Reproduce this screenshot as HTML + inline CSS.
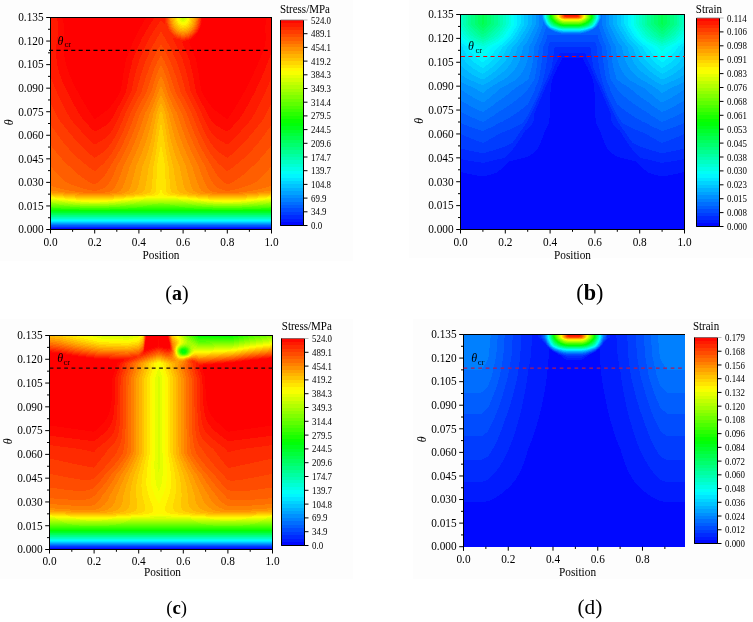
<!DOCTYPE html>
<html><head><meta charset="utf-8"><style>
html,body{margin:0;padding:0;background:#fff}
body{width:753px;height:622px;position:relative;overflow:hidden;font-family:"Liberation Serif", serif}
canvas{position:absolute;display:block}
.bg{position:absolute}
svg{position:absolute;left:0;top:0}
.t{font-size:11.3px}
.c{font-size:8.9px}
.h{font-size:11px}
.it{font-size:12px;font-style:italic}
</style></head><body>
<div class="bg" style="left:0;top:0;width:353px;height:260.5px;background:#fdfdfd"></div>
<div class="bg" style="left:409px;top:0;width:344px;height:258px;background:#fdfdfd"></div>
<div class="bg" style="left:0;top:318.6px;width:352.5px;height:260px;background:#fdfdfd"></div>
<div class="bg" style="left:413px;top:319px;width:340px;height:260px;background:#fdfdfd"></div>
<canvas id="fa" width="222" height="213" style="left:50px;top:17px;width:222px;height:213px"></canvas>
<canvas id="ca" width="24" height="206" style="left:280px;top:20px;width:24px;height:206px"></canvas>
<canvas id="fb" width="225" height="216" style="left:460px;top:14px;width:225px;height:216px"></canvas>
<canvas id="cb" width="24" height="209" style="left:696px;top:18px;width:24px;height:209px"></canvas>
<canvas id="fc" width="224" height="215" style="left:49px;top:335px;width:224px;height:215px"></canvas>
<canvas id="cc" width="24" height="208" style="left:281px;top:338px;width:24px;height:208px"></canvas>
<canvas id="fd" width="222" height="213" style="left:463px;top:334px;width:222px;height:213px"></canvas>
<canvas id="cd" width="24" height="207" style="left:694px;top:337px;width:24px;height:207px"></canvas>
<svg width="753" height="622" viewBox="0 0 753 622" font-family='"Liberation Serif", serif' fill="#000" stroke="#000" stroke-width="1">

<line x1="46.2" y1="229.5" x2="50.5" y2="229.5"/>
<text x="43.6" y="233.3" text-anchor="end" class="t" stroke="none" transform="matrix(1 0 0 1.1 0 -23.33)">0.000</text>
<line x1="48" y1="217.72" x2="50.5" y2="217.72"/>
<line x1="46.2" y1="205.94" x2="50.5" y2="205.94"/>
<text x="43.6" y="209.74" text-anchor="end" class="t" stroke="none" transform="matrix(1 0 0 1.1 0 -20.97)">0.015</text>
<line x1="48" y1="194.17" x2="50.5" y2="194.17"/>
<line x1="46.2" y1="182.39" x2="50.5" y2="182.39"/>
<text x="43.6" y="186.19" text-anchor="end" class="t" stroke="none" transform="matrix(1 0 0 1.1 0 -18.62)">0.030</text>
<line x1="48" y1="170.61" x2="50.5" y2="170.61"/>
<line x1="46.2" y1="158.83" x2="50.5" y2="158.83"/>
<text x="43.6" y="162.63" text-anchor="end" class="t" stroke="none" transform="matrix(1 0 0 1.1 0 -16.26)">0.045</text>
<line x1="48" y1="147.06" x2="50.5" y2="147.06"/>
<line x1="46.2" y1="135.28" x2="50.5" y2="135.28"/>
<text x="43.6" y="139.08" text-anchor="end" class="t" stroke="none" transform="matrix(1 0 0 1.1 0 -13.91)">0.060</text>
<line x1="48" y1="123.5" x2="50.5" y2="123.5"/>
<line x1="46.2" y1="111.72" x2="50.5" y2="111.72"/>
<text x="43.6" y="115.52" text-anchor="end" class="t" stroke="none" transform="matrix(1 0 0 1.1 0 -11.55)">0.075</text>
<line x1="48" y1="99.94" x2="50.5" y2="99.94"/>
<line x1="46.2" y1="88.17" x2="50.5" y2="88.17"/>
<text x="43.6" y="91.97" text-anchor="end" class="t" stroke="none" transform="matrix(1 0 0 1.1 0 -9.2)">0.090</text>
<line x1="48" y1="76.39" x2="50.5" y2="76.39"/>
<line x1="46.2" y1="64.61" x2="50.5" y2="64.61"/>
<text x="43.6" y="68.41" text-anchor="end" class="t" stroke="none" transform="matrix(1 0 0 1.1 0 -6.84)">0.105</text>
<line x1="48" y1="52.83" x2="50.5" y2="52.83"/>
<line x1="46.2" y1="41.06" x2="50.5" y2="41.06"/>
<text x="43.6" y="44.86" text-anchor="end" class="t" stroke="none" transform="matrix(1 0 0 1.1 0 -4.49)">0.120</text>
<line x1="48" y1="29.28" x2="50.5" y2="29.28"/>
<line x1="46.2" y1="17.5" x2="50.5" y2="17.5"/>
<text x="43.6" y="21.3" text-anchor="end" class="t" stroke="none" transform="matrix(1 0 0 1.1 0 -2.13)">0.135</text>
<line x1="50.5" y1="229.5" x2="50.5" y2="233.5"/>
<line x1="72.6" y1="229.5" x2="72.6" y2="231.8"/>
<line x1="94.7" y1="229.5" x2="94.7" y2="233.5"/>
<line x1="116.8" y1="229.5" x2="116.8" y2="231.8"/>
<line x1="138.9" y1="229.5" x2="138.9" y2="233.5"/>
<line x1="161" y1="229.5" x2="161" y2="231.8"/>
<line x1="183.1" y1="229.5" x2="183.1" y2="233.5"/>
<line x1="205.2" y1="229.5" x2="205.2" y2="231.8"/>
<line x1="227.3" y1="229.5" x2="227.3" y2="233.5"/>
<line x1="249.4" y1="229.5" x2="249.4" y2="231.8"/>
<line x1="271.5" y1="229.5" x2="271.5" y2="233.5"/>
<text x="50.5" y="245.7" text-anchor="middle" class="t" stroke="none" transform="matrix(1 0 0 1.1 0 -24.57)">0.0</text>
<text x="94.7" y="245.7" text-anchor="middle" class="t" stroke="none" transform="matrix(1 0 0 1.1 0 -24.57)">0.2</text>
<text x="138.9" y="245.7" text-anchor="middle" class="t" stroke="none" transform="matrix(1 0 0 1.1 0 -24.57)">0.4</text>
<text x="183.1" y="245.7" text-anchor="middle" class="t" stroke="none" transform="matrix(1 0 0 1.1 0 -24.57)">0.6</text>
<text x="227.3" y="245.7" text-anchor="middle" class="t" stroke="none" transform="matrix(1 0 0 1.1 0 -24.57)">0.8</text>
<text x="271.5" y="245.7" text-anchor="middle" class="t" stroke="none" transform="matrix(1 0 0 1.1 0 -24.57)">1.0</text>
<text x="161" y="259" text-anchor="middle" class="t" stroke="none" transform="matrix(1 0 0 1.1 0 -25.9)">Position</text>
<rect x="50.5" y="17.5" width="221" height="212" fill="none"/>
<text transform="translate(13,122.2) rotate(-90)" text-anchor="middle" class="it" stroke="none">&#952;</text>
<line x1="49.0" y1="50.4" x2="271.5" y2="50.4" stroke="#000" stroke-width="1.3" stroke-dasharray="4.1 3.3"/>
<text x="57.6" y="44.5" class="it" stroke="none">&#952;</text><text x="64.5" y="46.5" font-size="8.5" stroke="none">cr</text>
<path d="M280.5,20V225.5H303.5V20" fill="none"/>
<line x1="280.5" y1="20" x2="303.5" y2="20" stroke="#777" stroke-width="0.8"/>
<line x1="303.5" y1="20" x2="307.5" y2="20" stroke="#bbb"/>
<text x="311" y="23.6" class="c" stroke="none" transform="matrix(1 0 0 1.1 0 -2.36)">524.0</text>
<line x1="303.5" y1="33.7" x2="307.5" y2="33.7"/>
<text x="311" y="37.3" class="c" stroke="none" transform="matrix(1 0 0 1.1 0 -3.73)">489.1</text>
<line x1="303.5" y1="47.4" x2="307.5" y2="47.4"/>
<text x="311" y="51" class="c" stroke="none" transform="matrix(1 0 0 1.1 0 -5.1)">454.1</text>
<line x1="303.5" y1="61.1" x2="307.5" y2="61.1"/>
<text x="311" y="64.7" class="c" stroke="none" transform="matrix(1 0 0 1.1 0 -6.47)">419.2</text>
<line x1="303.5" y1="74.8" x2="307.5" y2="74.8"/>
<text x="311" y="78.4" class="c" stroke="none" transform="matrix(1 0 0 1.1 0 -7.84)">384.3</text>
<line x1="303.5" y1="88.5" x2="307.5" y2="88.5"/>
<text x="311" y="92.1" class="c" stroke="none" transform="matrix(1 0 0 1.1 0 -9.21)">349.3</text>
<line x1="303.5" y1="102.2" x2="307.5" y2="102.2"/>
<text x="311" y="105.8" class="c" stroke="none" transform="matrix(1 0 0 1.1 0 -10.58)">314.4</text>
<line x1="303.5" y1="115.9" x2="307.5" y2="115.9"/>
<text x="311" y="119.5" class="c" stroke="none" transform="matrix(1 0 0 1.1 0 -11.95)">279.5</text>
<line x1="303.5" y1="129.6" x2="307.5" y2="129.6"/>
<text x="311" y="133.2" class="c" stroke="none" transform="matrix(1 0 0 1.1 0 -13.32)">244.5</text>
<line x1="303.5" y1="143.3" x2="307.5" y2="143.3"/>
<text x="311" y="146.9" class="c" stroke="none" transform="matrix(1 0 0 1.1 0 -14.69)">209.6</text>
<line x1="303.5" y1="157" x2="307.5" y2="157"/>
<text x="311" y="160.6" class="c" stroke="none" transform="matrix(1 0 0 1.1 0 -16.06)">174.7</text>
<line x1="303.5" y1="170.7" x2="307.5" y2="170.7"/>
<text x="311" y="174.3" class="c" stroke="none" transform="matrix(1 0 0 1.1 0 -17.43)">139.7</text>
<line x1="303.5" y1="184.4" x2="307.5" y2="184.4"/>
<text x="311" y="188" class="c" stroke="none" transform="matrix(1 0 0 1.1 0 -18.8)">104.8</text>
<line x1="303.5" y1="198.1" x2="307.5" y2="198.1"/>
<text x="311" y="201.7" class="c" stroke="none" transform="matrix(1 0 0 1.1 0 -20.17)">69.9</text>
<line x1="303.5" y1="211.8" x2="307.5" y2="211.8"/>
<text x="311" y="215.4" class="c" stroke="none" transform="matrix(1 0 0 1.1 0 -21.54)">34.9</text>
<line x1="303.5" y1="225.5" x2="307.5" y2="225.5"/>
<text x="311" y="229.1" class="c" stroke="none" transform="matrix(1 0 0 1.1 0 -22.91)">0.0</text>
<text x="279.9" y="12.7" class="h" stroke="none" transform="matrix(1 0 0 1.1 0 -1.27)">Stress/MPa</text>
<text x="176.9" y="300.4" text-anchor="middle" font-size="20" stroke="none">(<tspan font-weight="bold" stroke="none">a</tspan>)</text>
<line x1="456.2" y1="229.5" x2="460.5" y2="229.5"/>
<text x="453.6" y="233.3" text-anchor="end" class="t" stroke="none" transform="matrix(1 0 0 1.1 0 -23.33)">0.000</text>
<line x1="458" y1="217.56" x2="460.5" y2="217.56"/>
<line x1="456.2" y1="205.61" x2="460.5" y2="205.61"/>
<text x="453.6" y="209.41" text-anchor="end" class="t" stroke="none" transform="matrix(1 0 0 1.1 0 -20.94)">0.015</text>
<line x1="458" y1="193.67" x2="460.5" y2="193.67"/>
<line x1="456.2" y1="181.72" x2="460.5" y2="181.72"/>
<text x="453.6" y="185.52" text-anchor="end" class="t" stroke="none" transform="matrix(1 0 0 1.1 0 -18.55)">0.030</text>
<line x1="458" y1="169.78" x2="460.5" y2="169.78"/>
<line x1="456.2" y1="157.83" x2="460.5" y2="157.83"/>
<text x="453.6" y="161.63" text-anchor="end" class="t" stroke="none" transform="matrix(1 0 0 1.1 0 -16.16)">0.045</text>
<line x1="458" y1="145.89" x2="460.5" y2="145.89"/>
<line x1="456.2" y1="133.94" x2="460.5" y2="133.94"/>
<text x="453.6" y="137.74" text-anchor="end" class="t" stroke="none" transform="matrix(1 0 0 1.1 0 -13.77)">0.060</text>
<line x1="458" y1="122" x2="460.5" y2="122"/>
<line x1="456.2" y1="110.06" x2="460.5" y2="110.06"/>
<text x="453.6" y="113.86" text-anchor="end" class="t" stroke="none" transform="matrix(1 0 0 1.1 0 -11.39)">0.075</text>
<line x1="458" y1="98.11" x2="460.5" y2="98.11"/>
<line x1="456.2" y1="86.17" x2="460.5" y2="86.17"/>
<text x="453.6" y="89.97" text-anchor="end" class="t" stroke="none" transform="matrix(1 0 0 1.1 0 -9)">0.090</text>
<line x1="458" y1="74.22" x2="460.5" y2="74.22"/>
<line x1="456.2" y1="62.28" x2="460.5" y2="62.28"/>
<text x="453.6" y="66.08" text-anchor="end" class="t" stroke="none" transform="matrix(1 0 0 1.1 0 -6.61)">0.105</text>
<line x1="458" y1="50.33" x2="460.5" y2="50.33"/>
<line x1="456.2" y1="38.39" x2="460.5" y2="38.39"/>
<text x="453.6" y="42.19" text-anchor="end" class="t" stroke="none" transform="matrix(1 0 0 1.1 0 -4.22)">0.120</text>
<line x1="458" y1="26.44" x2="460.5" y2="26.44"/>
<line x1="456.2" y1="14.5" x2="460.5" y2="14.5"/>
<text x="453.6" y="18.3" text-anchor="end" class="t" stroke="none" transform="matrix(1 0 0 1.1 0 -1.83)">0.135</text>
<line x1="460.5" y1="229.5" x2="460.5" y2="233.5"/>
<line x1="482.9" y1="229.5" x2="482.9" y2="231.8"/>
<line x1="505.3" y1="229.5" x2="505.3" y2="233.5"/>
<line x1="527.7" y1="229.5" x2="527.7" y2="231.8"/>
<line x1="550.1" y1="229.5" x2="550.1" y2="233.5"/>
<line x1="572.5" y1="229.5" x2="572.5" y2="231.8"/>
<line x1="594.9" y1="229.5" x2="594.9" y2="233.5"/>
<line x1="617.3" y1="229.5" x2="617.3" y2="231.8"/>
<line x1="639.7" y1="229.5" x2="639.7" y2="233.5"/>
<line x1="662.1" y1="229.5" x2="662.1" y2="231.8"/>
<line x1="684.5" y1="229.5" x2="684.5" y2="233.5"/>
<text x="460.5" y="245.7" text-anchor="middle" class="t" stroke="none" transform="matrix(1 0 0 1.1 0 -24.57)">0.0</text>
<text x="505.3" y="245.7" text-anchor="middle" class="t" stroke="none" transform="matrix(1 0 0 1.1 0 -24.57)">0.2</text>
<text x="550.1" y="245.7" text-anchor="middle" class="t" stroke="none" transform="matrix(1 0 0 1.1 0 -24.57)">0.4</text>
<text x="594.9" y="245.7" text-anchor="middle" class="t" stroke="none" transform="matrix(1 0 0 1.1 0 -24.57)">0.6</text>
<text x="639.7" y="245.7" text-anchor="middle" class="t" stroke="none" transform="matrix(1 0 0 1.1 0 -24.57)">0.8</text>
<text x="684.5" y="245.7" text-anchor="middle" class="t" stroke="none" transform="matrix(1 0 0 1.1 0 -24.57)">1.0</text>
<text x="572.5" y="259" text-anchor="middle" class="t" stroke="none" transform="matrix(1 0 0 1.1 0 -25.9)">Position</text>
<rect x="460.5" y="14.5" width="224" height="215" fill="none"/>
<text transform="translate(423,120.7) rotate(-90)" text-anchor="middle" class="it" stroke="none">&#952;</text>
<line x1="461.0" y1="56.5" x2="684.5" y2="56.5" stroke="#f00000" stroke-width="1.2" stroke-dasharray="4 3.4"/>
<text x="468.1" y="50.0" class="it" stroke="none">&#952;</text><text x="475.5" y="52.5" font-size="8.5" stroke="none">cr</text>
<path d="M696.5,18V226.5H719.5V18" fill="none"/>
<line x1="696.5" y1="18" x2="719.5" y2="18" stroke="#777" stroke-width="0.8"/>
<line x1="719.5" y1="18" x2="723.5" y2="18" stroke="#bbb"/>
<text x="727" y="21.6" class="c" stroke="none" transform="matrix(1 0 0 1.1 0 -2.16)">0.114</text>
<line x1="719.5" y1="31.9" x2="723.5" y2="31.9"/>
<text x="727" y="35.5" class="c" stroke="none" transform="matrix(1 0 0 1.1 0 -3.55)">0.106</text>
<line x1="719.5" y1="45.8" x2="723.5" y2="45.8"/>
<text x="727" y="49.4" class="c" stroke="none" transform="matrix(1 0 0 1.1 0 -4.94)">0.098</text>
<line x1="719.5" y1="59.7" x2="723.5" y2="59.7"/>
<text x="727" y="63.3" class="c" stroke="none" transform="matrix(1 0 0 1.1 0 -6.33)">0.091</text>
<line x1="719.5" y1="73.6" x2="723.5" y2="73.6"/>
<text x="727" y="77.2" class="c" stroke="none" transform="matrix(1 0 0 1.1 0 -7.72)">0.083</text>
<line x1="719.5" y1="87.5" x2="723.5" y2="87.5"/>
<text x="727" y="91.1" class="c" stroke="none" transform="matrix(1 0 0 1.1 0 -9.11)">0.076</text>
<line x1="719.5" y1="101.4" x2="723.5" y2="101.4"/>
<text x="727" y="105" class="c" stroke="none" transform="matrix(1 0 0 1.1 0 -10.5)">0.068</text>
<line x1="719.5" y1="115.3" x2="723.5" y2="115.3"/>
<text x="727" y="118.9" class="c" stroke="none" transform="matrix(1 0 0 1.1 0 -11.89)">0.061</text>
<line x1="719.5" y1="129.2" x2="723.5" y2="129.2"/>
<text x="727" y="132.8" class="c" stroke="none" transform="matrix(1 0 0 1.1 0 -13.28)">0.053</text>
<line x1="719.5" y1="143.1" x2="723.5" y2="143.1"/>
<text x="727" y="146.7" class="c" stroke="none" transform="matrix(1 0 0 1.1 0 -14.67)">0.045</text>
<line x1="719.5" y1="157" x2="723.5" y2="157"/>
<text x="727" y="160.6" class="c" stroke="none" transform="matrix(1 0 0 1.1 0 -16.06)">0.038</text>
<line x1="719.5" y1="170.9" x2="723.5" y2="170.9"/>
<text x="727" y="174.5" class="c" stroke="none" transform="matrix(1 0 0 1.1 0 -17.45)">0.030</text>
<line x1="719.5" y1="184.8" x2="723.5" y2="184.8"/>
<text x="727" y="188.4" class="c" stroke="none" transform="matrix(1 0 0 1.1 0 -18.84)">0.023</text>
<line x1="719.5" y1="198.7" x2="723.5" y2="198.7"/>
<text x="727" y="202.3" class="c" stroke="none" transform="matrix(1 0 0 1.1 0 -20.23)">0.015</text>
<line x1="719.5" y1="212.6" x2="723.5" y2="212.6"/>
<text x="727" y="216.2" class="c" stroke="none" transform="matrix(1 0 0 1.1 0 -21.62)">0.008</text>
<line x1="719.5" y1="226.5" x2="723.5" y2="226.5"/>
<text x="727" y="230.1" class="c" stroke="none" transform="matrix(1 0 0 1.1 0 -23.01)">0.000</text>
<text x="695.8" y="12.7" class="h" stroke="none" transform="matrix(1 0 0 1.1 0 -1.27)">Strain</text>
<text x="589.9" y="300.0" text-anchor="middle" font-size="22.2" stroke="none">(<tspan font-weight="bold" stroke="none">b</tspan>)</text>
<line x1="45.2" y1="549.5" x2="49.5" y2="549.5"/>
<text x="42.6" y="553.3" text-anchor="end" class="t" stroke="none" transform="matrix(1 0 0 1.1 0 -55.33)">0.000</text>
<line x1="47" y1="537.61" x2="49.5" y2="537.61"/>
<line x1="45.2" y1="525.72" x2="49.5" y2="525.72"/>
<text x="42.6" y="529.52" text-anchor="end" class="t" stroke="none" transform="matrix(1 0 0 1.1 0 -52.95)">0.015</text>
<line x1="47" y1="513.83" x2="49.5" y2="513.83"/>
<line x1="45.2" y1="501.94" x2="49.5" y2="501.94"/>
<text x="42.6" y="505.74" text-anchor="end" class="t" stroke="none" transform="matrix(1 0 0 1.1 0 -50.57)">0.030</text>
<line x1="47" y1="490.06" x2="49.5" y2="490.06"/>
<line x1="45.2" y1="478.17" x2="49.5" y2="478.17"/>
<text x="42.6" y="481.97" text-anchor="end" class="t" stroke="none" transform="matrix(1 0 0 1.1 0 -48.2)">0.045</text>
<line x1="47" y1="466.28" x2="49.5" y2="466.28"/>
<line x1="45.2" y1="454.39" x2="49.5" y2="454.39"/>
<text x="42.6" y="458.19" text-anchor="end" class="t" stroke="none" transform="matrix(1 0 0 1.1 0 -45.82)">0.060</text>
<line x1="47" y1="442.5" x2="49.5" y2="442.5"/>
<line x1="45.2" y1="430.61" x2="49.5" y2="430.61"/>
<text x="42.6" y="434.41" text-anchor="end" class="t" stroke="none" transform="matrix(1 0 0 1.1 0 -43.44)">0.075</text>
<line x1="47" y1="418.72" x2="49.5" y2="418.72"/>
<line x1="45.2" y1="406.83" x2="49.5" y2="406.83"/>
<text x="42.6" y="410.63" text-anchor="end" class="t" stroke="none" transform="matrix(1 0 0 1.1 0 -41.06)">0.090</text>
<line x1="47" y1="394.94" x2="49.5" y2="394.94"/>
<line x1="45.2" y1="383.06" x2="49.5" y2="383.06"/>
<text x="42.6" y="386.86" text-anchor="end" class="t" stroke="none" transform="matrix(1 0 0 1.1 0 -38.69)">0.105</text>
<line x1="47" y1="371.17" x2="49.5" y2="371.17"/>
<line x1="45.2" y1="359.28" x2="49.5" y2="359.28"/>
<text x="42.6" y="363.08" text-anchor="end" class="t" stroke="none" transform="matrix(1 0 0 1.1 0 -36.31)">0.120</text>
<line x1="47" y1="347.39" x2="49.5" y2="347.39"/>
<line x1="45.2" y1="335.5" x2="49.5" y2="335.5"/>
<text x="42.6" y="339.3" text-anchor="end" class="t" stroke="none" transform="matrix(1 0 0 1.1 0 -33.93)">0.135</text>
<line x1="49.5" y1="549.5" x2="49.5" y2="553.5"/>
<line x1="71.8" y1="549.5" x2="71.8" y2="551.8"/>
<line x1="94.1" y1="549.5" x2="94.1" y2="553.5"/>
<line x1="116.4" y1="549.5" x2="116.4" y2="551.8"/>
<line x1="138.7" y1="549.5" x2="138.7" y2="553.5"/>
<line x1="161" y1="549.5" x2="161" y2="551.8"/>
<line x1="183.3" y1="549.5" x2="183.3" y2="553.5"/>
<line x1="205.6" y1="549.5" x2="205.6" y2="551.8"/>
<line x1="227.9" y1="549.5" x2="227.9" y2="553.5"/>
<line x1="250.2" y1="549.5" x2="250.2" y2="551.8"/>
<line x1="272.5" y1="549.5" x2="272.5" y2="553.5"/>
<text x="49.5" y="564.9" text-anchor="middle" class="t" stroke="none" transform="matrix(1 0 0 1.1 0 -56.49)">0.0</text>
<text x="94.1" y="564.9" text-anchor="middle" class="t" stroke="none" transform="matrix(1 0 0 1.1 0 -56.49)">0.2</text>
<text x="138.7" y="564.9" text-anchor="middle" class="t" stroke="none" transform="matrix(1 0 0 1.1 0 -56.49)">0.4</text>
<text x="183.3" y="564.9" text-anchor="middle" class="t" stroke="none" transform="matrix(1 0 0 1.1 0 -56.49)">0.6</text>
<text x="227.9" y="564.9" text-anchor="middle" class="t" stroke="none" transform="matrix(1 0 0 1.1 0 -56.49)">0.8</text>
<text x="272.5" y="564.9" text-anchor="middle" class="t" stroke="none" transform="matrix(1 0 0 1.1 0 -56.49)">1.0</text>
<text x="162.5" y="576.5" text-anchor="middle" class="t" stroke="none" transform="matrix(1 0 0 1.1 0 -57.65)">Position</text>
<rect x="49.5" y="335.5" width="223" height="214" fill="none"/>
<text transform="translate(12,441.2) rotate(-90)" text-anchor="middle" class="it" stroke="none">&#952;</text>
<line x1="49.6" y1="368.1" x2="272.5" y2="368.1" stroke="#1a0a0a" stroke-width="1.3" stroke-dasharray="3.8 3.5"/>
<text x="57.2" y="361.8" class="it" stroke="none">&#952;</text><text x="63.6" y="364.8" font-size="8.5" stroke="none">cr</text>
<path d="M281.5,338.5V545.5H304.5V338.5" fill="none"/>
<line x1="281.5" y1="338.5" x2="304.5" y2="338.5" stroke="#777" stroke-width="0.8"/>
<line x1="304.5" y1="338.5" x2="308.5" y2="338.5" stroke="#bbb"/>
<text x="312" y="342.1" class="c" stroke="none" transform="matrix(1 0 0 1.1 0 -34.21)">524.0</text>
<line x1="304.5" y1="352.3" x2="308.5" y2="352.3"/>
<text x="312" y="355.9" class="c" stroke="none" transform="matrix(1 0 0 1.1 0 -35.59)">489.1</text>
<line x1="304.5" y1="366.1" x2="308.5" y2="366.1"/>
<text x="312" y="369.7" class="c" stroke="none" transform="matrix(1 0 0 1.1 0 -36.97)">454.1</text>
<line x1="304.5" y1="379.9" x2="308.5" y2="379.9"/>
<text x="312" y="383.5" class="c" stroke="none" transform="matrix(1 0 0 1.1 0 -38.35)">419.2</text>
<line x1="304.5" y1="393.7" x2="308.5" y2="393.7"/>
<text x="312" y="397.3" class="c" stroke="none" transform="matrix(1 0 0 1.1 0 -39.73)">384.3</text>
<line x1="304.5" y1="407.5" x2="308.5" y2="407.5"/>
<text x="312" y="411.1" class="c" stroke="none" transform="matrix(1 0 0 1.1 0 -41.11)">349.3</text>
<line x1="304.5" y1="421.3" x2="308.5" y2="421.3"/>
<text x="312" y="424.9" class="c" stroke="none" transform="matrix(1 0 0 1.1 0 -42.49)">314.4</text>
<line x1="304.5" y1="435.1" x2="308.5" y2="435.1"/>
<text x="312" y="438.7" class="c" stroke="none" transform="matrix(1 0 0 1.1 0 -43.87)">279.5</text>
<line x1="304.5" y1="448.9" x2="308.5" y2="448.9"/>
<text x="312" y="452.5" class="c" stroke="none" transform="matrix(1 0 0 1.1 0 -45.25)">244.5</text>
<line x1="304.5" y1="462.7" x2="308.5" y2="462.7"/>
<text x="312" y="466.3" class="c" stroke="none" transform="matrix(1 0 0 1.1 0 -46.63)">209.6</text>
<line x1="304.5" y1="476.5" x2="308.5" y2="476.5"/>
<text x="312" y="480.1" class="c" stroke="none" transform="matrix(1 0 0 1.1 0 -48.01)">174.7</text>
<line x1="304.5" y1="490.3" x2="308.5" y2="490.3"/>
<text x="312" y="493.9" class="c" stroke="none" transform="matrix(1 0 0 1.1 0 -49.39)">139.7</text>
<line x1="304.5" y1="504.1" x2="308.5" y2="504.1"/>
<text x="312" y="507.7" class="c" stroke="none" transform="matrix(1 0 0 1.1 0 -50.77)">104.8</text>
<line x1="304.5" y1="517.9" x2="308.5" y2="517.9"/>
<text x="312" y="521.5" class="c" stroke="none" transform="matrix(1 0 0 1.1 0 -52.15)">69.9</text>
<line x1="304.5" y1="531.7" x2="308.5" y2="531.7"/>
<text x="312" y="535.3" class="c" stroke="none" transform="matrix(1 0 0 1.1 0 -53.53)">34.9</text>
<line x1="304.5" y1="545.5" x2="308.5" y2="545.5"/>
<text x="312" y="549.1" class="c" stroke="none" transform="matrix(1 0 0 1.1 0 -54.91)">0.0</text>
<text x="281.8" y="330.1" class="h" stroke="none" transform="matrix(1 0 0 1.1 0 -33.01)">Stress/MPa</text>
<text x="176.7" y="614.3" text-anchor="middle" font-size="18.7" stroke="none">(<tspan font-weight="bold" stroke="none">c</tspan>)</text>
<line x1="459.2" y1="546.7" x2="463.5" y2="546.7"/>
<text x="456.6" y="550.5" text-anchor="end" class="t" stroke="none" transform="matrix(1 0 0 1.1 0 -55.05)">0.000</text>
<line x1="461" y1="534.91" x2="463.5" y2="534.91"/>
<line x1="459.2" y1="523.12" x2="463.5" y2="523.12"/>
<text x="456.6" y="526.92" text-anchor="end" class="t" stroke="none" transform="matrix(1 0 0 1.1 0 -52.69)">0.015</text>
<line x1="461" y1="511.33" x2="463.5" y2="511.33"/>
<line x1="459.2" y1="499.54" x2="463.5" y2="499.54"/>
<text x="456.6" y="503.34" text-anchor="end" class="t" stroke="none" transform="matrix(1 0 0 1.1 0 -50.33)">0.030</text>
<line x1="461" y1="487.76" x2="463.5" y2="487.76"/>
<line x1="459.2" y1="475.97" x2="463.5" y2="475.97"/>
<text x="456.6" y="479.77" text-anchor="end" class="t" stroke="none" transform="matrix(1 0 0 1.1 0 -47.98)">0.045</text>
<line x1="461" y1="464.18" x2="463.5" y2="464.18"/>
<line x1="459.2" y1="452.39" x2="463.5" y2="452.39"/>
<text x="456.6" y="456.19" text-anchor="end" class="t" stroke="none" transform="matrix(1 0 0 1.1 0 -45.62)">0.060</text>
<line x1="461" y1="440.6" x2="463.5" y2="440.6"/>
<line x1="459.2" y1="428.81" x2="463.5" y2="428.81"/>
<text x="456.6" y="432.61" text-anchor="end" class="t" stroke="none" transform="matrix(1 0 0 1.1 0 -43.26)">0.075</text>
<line x1="461" y1="417.02" x2="463.5" y2="417.02"/>
<line x1="459.2" y1="405.23" x2="463.5" y2="405.23"/>
<text x="456.6" y="409.03" text-anchor="end" class="t" stroke="none" transform="matrix(1 0 0 1.1 0 -40.9)">0.090</text>
<line x1="461" y1="393.44" x2="463.5" y2="393.44"/>
<line x1="459.2" y1="381.66" x2="463.5" y2="381.66"/>
<text x="456.6" y="385.46" text-anchor="end" class="t" stroke="none" transform="matrix(1 0 0 1.1 0 -38.55)">0.105</text>
<line x1="461" y1="369.87" x2="463.5" y2="369.87"/>
<line x1="459.2" y1="358.08" x2="463.5" y2="358.08"/>
<text x="456.6" y="361.88" text-anchor="end" class="t" stroke="none" transform="matrix(1 0 0 1.1 0 -36.19)">0.120</text>
<line x1="461" y1="346.29" x2="463.5" y2="346.29"/>
<line x1="459.2" y1="334.5" x2="463.5" y2="334.5"/>
<text x="456.6" y="338.3" text-anchor="end" class="t" stroke="none" transform="matrix(1 0 0 1.1 0 -33.83)">0.135</text>
<line x1="463.5" y1="546.7" x2="463.5" y2="550.7"/>
<line x1="485.87" y1="546.7" x2="485.87" y2="549"/>
<line x1="508.25" y1="546.7" x2="508.25" y2="550.7"/>
<line x1="530.62" y1="546.7" x2="530.62" y2="549"/>
<line x1="552.99" y1="546.7" x2="552.99" y2="550.7"/>
<line x1="575.37" y1="546.7" x2="575.37" y2="549"/>
<line x1="597.74" y1="546.7" x2="597.74" y2="550.7"/>
<line x1="620.12" y1="546.7" x2="620.12" y2="549"/>
<line x1="642.49" y1="546.7" x2="642.49" y2="550.7"/>
<line x1="664.86" y1="546.7" x2="664.86" y2="549"/>
<text x="463.5" y="562.9" text-anchor="middle" class="t" stroke="none" transform="matrix(1 0 0 1.1 0 -56.29)">0.0</text>
<text x="508.25" y="562.9" text-anchor="middle" class="t" stroke="none" transform="matrix(1 0 0 1.1 0 -56.29)">0.2</text>
<text x="552.99" y="562.9" text-anchor="middle" class="t" stroke="none" transform="matrix(1 0 0 1.1 0 -56.29)">0.4</text>
<text x="597.74" y="562.9" text-anchor="middle" class="t" stroke="none" transform="matrix(1 0 0 1.1 0 -56.29)">0.6</text>
<text x="642.49" y="562.9" text-anchor="middle" class="t" stroke="none" transform="matrix(1 0 0 1.1 0 -56.29)">0.8</text>
<text x="577.55" y="576.2" text-anchor="middle" class="t" stroke="none" transform="matrix(1 0 0 1.1 0 -57.62)">Position</text>
<path d="M463.5,550.7V334.5H685" fill="none"/>
<text transform="translate(426,439.3) rotate(-90)" text-anchor="middle" class="it" stroke="none">&#952;</text>
<line x1="463.5" y1="368.1" x2="685" y2="368.1" stroke="#b01858" stroke-width="1.3" stroke-dasharray="3.7 3.7"/>
<text x="471.3" y="362.1" class="it" stroke="none">&#952;</text><text x="477.7" y="364.8" font-size="8.5" stroke="none">cr</text>
<path d="M694.5,337.5V543.5H717.5V337.5" fill="none"/>
<line x1="694.5" y1="337.5" x2="717.5" y2="337.5" stroke="#777" stroke-width="0.8"/>
<line x1="717.5" y1="337.5" x2="721.5" y2="337.5" stroke="#bbb"/>
<text x="725" y="341.1" class="c" stroke="none" transform="matrix(1 0 0 1.1 0 -34.11)">0.179</text>
<line x1="717.5" y1="351.23" x2="721.5" y2="351.23"/>
<text x="725" y="354.83" class="c" stroke="none" transform="matrix(1 0 0 1.1 0 -35.48)">0.168</text>
<line x1="717.5" y1="364.97" x2="721.5" y2="364.97"/>
<text x="725" y="368.57" class="c" stroke="none" transform="matrix(1 0 0 1.1 0 -36.86)">0.156</text>
<line x1="717.5" y1="378.7" x2="721.5" y2="378.7"/>
<text x="725" y="382.3" class="c" stroke="none" transform="matrix(1 0 0 1.1 0 -38.23)">0.144</text>
<line x1="717.5" y1="392.43" x2="721.5" y2="392.43"/>
<text x="725" y="396.03" class="c" stroke="none" transform="matrix(1 0 0 1.1 0 -39.6)">0.132</text>
<line x1="717.5" y1="406.17" x2="721.5" y2="406.17"/>
<text x="725" y="409.77" class="c" stroke="none" transform="matrix(1 0 0 1.1 0 -40.98)">0.120</text>
<line x1="717.5" y1="419.9" x2="721.5" y2="419.9"/>
<text x="725" y="423.5" class="c" stroke="none" transform="matrix(1 0 0 1.1 0 -42.35)">0.108</text>
<line x1="717.5" y1="433.63" x2="721.5" y2="433.63"/>
<text x="725" y="437.23" class="c" stroke="none" transform="matrix(1 0 0 1.1 0 -43.72)">0.096</text>
<line x1="717.5" y1="447.37" x2="721.5" y2="447.37"/>
<text x="725" y="450.97" class="c" stroke="none" transform="matrix(1 0 0 1.1 0 -45.1)">0.084</text>
<line x1="717.5" y1="461.1" x2="721.5" y2="461.1"/>
<text x="725" y="464.7" class="c" stroke="none" transform="matrix(1 0 0 1.1 0 -46.47)">0.072</text>
<line x1="717.5" y1="474.83" x2="721.5" y2="474.83"/>
<text x="725" y="478.43" class="c" stroke="none" transform="matrix(1 0 0 1.1 0 -47.84)">0.060</text>
<line x1="717.5" y1="488.57" x2="721.5" y2="488.57"/>
<text x="725" y="492.17" class="c" stroke="none" transform="matrix(1 0 0 1.1 0 -49.22)">0.048</text>
<line x1="717.5" y1="502.3" x2="721.5" y2="502.3"/>
<text x="725" y="505.9" class="c" stroke="none" transform="matrix(1 0 0 1.1 0 -50.59)">0.036</text>
<line x1="717.5" y1="516.03" x2="721.5" y2="516.03"/>
<text x="725" y="519.63" class="c" stroke="none" transform="matrix(1 0 0 1.1 0 -51.96)">0.024</text>
<line x1="717.5" y1="529.77" x2="721.5" y2="529.77"/>
<text x="725" y="533.37" class="c" stroke="none" transform="matrix(1 0 0 1.1 0 -53.34)">0.012</text>
<line x1="717.5" y1="543.5" x2="721.5" y2="543.5"/>
<text x="725" y="547.1" class="c" stroke="none" transform="matrix(1 0 0 1.1 0 -54.71)">0.000</text>
<text x="692.9" y="330.0" class="h" stroke="none" transform="matrix(1 0 0 1.1 0 -33)">Strain</text>
<text x="589.8" y="614.2" text-anchor="middle" font-size="21.3" stroke="none">(<tspan font-weight="normal" stroke="none">d</tspan>)</text>
</svg>
<script>
var GEO={"fa": [50, 17, 50.5, 17.5, 271.5, 229.5], "ca": [280, 20, 280.5, 20.0, 303.5, 225.5], "fb": [460, 14, 460.5, 14.5, 684.5, 229.5], "cb": [696, 18, 696.5, 18.0, 719.5, 226.5], "fc": [49, 335, 49.5, 335.5, 272.5, 549.5], "cc": [281, 338, 281.5, 338.5, 304.5, 545.5], "fd": [463, 334, 463.5, 334.5, 685.0, 546.7], "cd": [694, 337, 694.5, 337.5, 717.5, 543.5]};
function cmap(t){
  if(t<0)t=0;if(t>1)t=1;var r,g,b;
  if(t<0.25){r=0;g=t*1020;b=255;}
  else if(t<0.5){r=0;g=255;b=(0.5-t)*1020;}
  else if(t<0.75){r=(t-0.5)*1020;g=255;b=0;}
  else{r=255;g=(1-t)*1020;b=0;}
  return [r,g,b];
}
function pl(P){return function(x){if(x<=P[0][0])return P[0][1];for(var i=1;i<P.length;i++){if(x<=P[i][0]){var a=(x-P[i-1][0])/(P[i][0]-P[i-1][0]);return P[i-1][1]*(1-a)+P[i][1]*a;}}return P[P.length-1][1];};}
function smin(a,b,k){return -Math.log(Math.exp(-k*a)+Math.exp(-k*b))/k;}
function smax(a,b,k){return -smin(-a,-b,k);}
function G2(x,s){return Math.exp(-x*x/(s*s));}
function draw(id,f,N){
  var c=document.getElementById(id);if(!c)return;var w=c.width,h=c.height,ctx=c.getContext('2d');
  var g=GEO[id],cx=g[0],cy=g[1],L=g[2],T=g[3],R=g[4],B=g[5];
  var im=ctx.createImageData(w,h),d=im.data;
  for(var j=0;j<h;j++){var v=(B-(cy+j+0.5))/(B-T);v=Math.max(0,Math.min(1,v));
    for(var i=0;i<w;i++){var u=(cx+i+0.5-L)/(R-L);u=Math.max(0,Math.min(1,u));var t=f(u,v);
      if(N)t=(Math.floor(t*N)+0.5)/N;
      var c3=cmap(t),k=(j*w+i)*4;d[k]=c3[0];d[k+1]=c3[1];d[k+2]=c3[2];d[k+3]=255;}}
  ctx.putImageData(im,0,0);
}
/* bottom ramp shared by a & c */
var rampLo=pl([[0.004,0],[0.042,0.25],[0.088,0.5]]);
function ramp(u,v,vy){
  if(v<0.088)return rampLo(v);
  if(v<vy)return 0.5+0.25*(v-0.088)/(vy-0.088);
  return 0.75+4.2*(v-vy);
}
function segd(u,v,x1,y1,x2,y2,sx,sy){var dx=(x2-x1)/sx,dy=(y2-y1)/sy,px=(u-x1)/sx,py=(v-y1)/sy;var t=(px*dx+py*dy)/(dx*dx+dy*dy);t=Math.max(0,Math.min(1,t));var ex=px-t*dx,ey=py-t*dy;return Math.exp(-(ex*ex+ey*ey));}
/* ---- panel a ---- */
var Gta=pl([[0.1,0.8],[0.145,0.83],[0.175,0.9],[0.22,0.92],[0.3,0.94],[0.45,0.98],[0.52,1.0],[1.0,1.1]]);
var aLa=pl([[0.2,0.15],[0.5,0.3],[0.8,0.4],[1,0.4]]);
var Cca=pl([[0.15,0.78],[0.3,0.785],[0.45,0.81],[0.55,0.83],[0.65,0.87],[0.79,0.91],[0.9,0.94],[1.0,0.97]]);
var aca=pl([[0.15,0.45],[0.3,0.58],[0.45,0.7],[0.55,0.75],[0.65,0.72],[0.8,0.55],[1.0,0.45]]);
function fa(u,v){
  var e=Math.min(u,1-u);
  var g=Gta(v),U;
  U=e<0.2?g-aLa(v)*(0.2-e):g-0.15*(e-0.2);
  U=smin(U,Cca(v)+aca(v)*Math.abs(u-0.5),140);
  U-=pl([[0.15,0.015],[0.5,0.02],[0.7,0.01],[0.85,0]])(v)*G2(u-0.5,0.03);
  var du=(u-0.6)*1.3,dv=(1-v)*1.0,rr=Math.sqrt(du*du+dv*dv),rx=Math.max(0,rr-0.06);U=smin(U,0.68+2.4*rr+20*rx*rx,60);
  U-=0.05*G2(u,0.12)*G2(1-v,0.14)+0.03*G2(1-u,0.08)*G2(1-v,0.1);
  var vy=0.143+0.01*Math.cos(2*Math.PI*(u-0.5)/0.6);
  return smin(ramp(u,v,vy),U,40);
}
/* ---- panel c ---- */
var Gtc=pl([[0.1,0.83],[0.15,0.86],[0.19,0.88],[0.24,0.91],[0.3,0.93],[0.38,0.95],[0.47,0.97],[0.55,1.0],[1.0,1.15]]);
var Ccc=pl([[0.15,0.77],[0.3,0.725],[0.4,0.71],[0.8,0.71],[0.87,0.74],[0.91,0.88],[0.95,1.0],[1,1.0]]);
var Cac=pl([[0.15,0.45],[0.25,0.6],[0.35,0.9],[0.45,1.4],[0.87,1.4],[0.93,1.0],[1.0,1.0]]);
var Tc=pl([[0,0.82],[0.05,0.8],[0.12,0.76],[0.23,0.71],[0.35,0.7],[0.4,0.72],[0.42,0.78],[0.44,1.1],[0.52,1.1],[0.55,0.8],[0.58,0.72],[0.62,0.6],[0.67,0.5],[0.82,0.5],[0.9,0.56],[1,0.62]]);
var Tac=pl([[0,1.5],[0.5,1.5],[0.6,2.5],[0.7,2.8],[0.82,3.2],[1,3.0]]);
var Tbc=pl([[0,10],[0.5,10],[0.6,8],[0.7,6],[1,6]]);
function fc(u,v){
  var e=Math.min(u,1-u);
  var g=Gtc(v);
  var U=e<0.2?g-0.05*(0.2-e):g-0.3*(e-0.2);
  U=smin(U,Ccc(v)+Cac(v)*Math.abs(u-0.49),50);
  var d=1-v;
  U=smin(U,Tc(u)+Tac(u)*d+Tbc(u)*d*d,50);
  U-=0.42*Math.exp(-Math.pow((u-0.597)/0.035,2)-Math.pow((v-0.922)/0.03,2));
  var vy=0.1525+0.0055*Math.cos(2*Math.PI*(u-0.5)/0.6);
  return smin(ramp(u,v,vy),U,40);
}
/* ---- panel b ---- */
var capP=pl([[0,1.0],[0.02,1.0],[0.032,0.95],[0.058,0.75],[0.092,0.5],[0.117,0.25],[0.132,0.12],[0.15,0.05],[0.19,0]]);
var capQ=pl([[0,0],[0.012,0.05],[0.025,0.25],[0.051,0.5],[0.072,0.75],[0.087,0.88],[0.1,0.95],[0.13,1]]);
function cap(u,v,c){
  var pd=Math.max(0,1-capP(Math.abs(u-c))),qd=capQ(1-v);
  return 1.0-Math.sqrt(pd*pd+qd*qd);
}
var Bb=pl([[0.1,0.003],[0.15,0.005],[0.2,0.01],[0.27,0.02],[0.33,0.04],[0.38,0.06],[0.45,0.08],[0.5,0.1],[0.555,0.12],[0.66,0.16],[0.74,0.21],[0.85,0.28],[0.9,0.36],[0.954,0.42],[1.0,0.42]]);
var Sb=pl([[0,0.72],[0.046,0.87],[0.1,1],[0.167,0.83],[0.228,0.63],[0.27,0.51],[0.3,0.44],[0.36,0.3],[0.4,0.2],[0.43,0.16],[0.5,0.15]]);
var Sbl=pl([[0,0.85],[0.1,1],[0.167,0.86],[0.228,0.76],[0.3,0.64],[0.33,0.54],[0.37,0.36],[0.42,0.2],[0.45,0.16],[0.5,0.15]]);
var Hvb=pl([[0.78,0],[0.8,0.02],[0.84,0.044],[0.875,0.07],[0.915,0.088],[1,0.1]]);
var Hub=pl([[0,1],[0.12,1],[0.2,0.5],[0.25,0]]);
var Mb=pl([[0.5,0.6],[0.6,0.45],[0.75,0.35],[0.81,0.35],[0.83,1],[1,1]]);
function fb(u,v){
  var e=Math.min(u,1-u);
  var w=Math.max(0,Math.min(1,(v-0.7)/0.2));
  var t=Bb(v)*(Sbl(e)*(1-w)+Sb(e)*w);
  var Wm=0.055+Math.max(0,0.8-v)*0.5,fm=Math.max(0,Math.min(1,(Wm-Math.abs(u-0.5))/0.03+0.5));
  t*=1-(1-Mb(v))*fm;
  t=Math.max(t,Hvb(v)*Hub(Math.abs(u-0.495)));
  return Math.max(t,cap(u,v,0.495));
}
/* ---- panel d ---- */
var Bd=pl([[0.1,0.008],[0.2,0.015],[0.314,0.035],[0.44,0.055],[0.576,0.075],[0.697,0.095],[0.8,0.113],[0.9,0.125],[1.0,0.13]]);
var Sd=pl([[0,1],[0.08,1],[0.11,0.95],[0.15,0.79],[0.19,0.625],[0.238,0.46],[0.29,0.29],[0.39,0.125],[0.5,0.07]]);
function fd(u,v){
  var e=Math.min(u,1-u);
  var t=Bd(v)*Sd(e);
  return Math.max(t,cap(u,v,0.5));
}
var NQ=60;draw('fa',fa,NQ);draw('fb',fb,NQ);draw('fc',fc,NQ);draw('fd',fd,NQ);
['ca','cb','cc','cd'].forEach(function(id){draw(id,function(u,v){return v;},NQ);});

</script>
</body></html>
